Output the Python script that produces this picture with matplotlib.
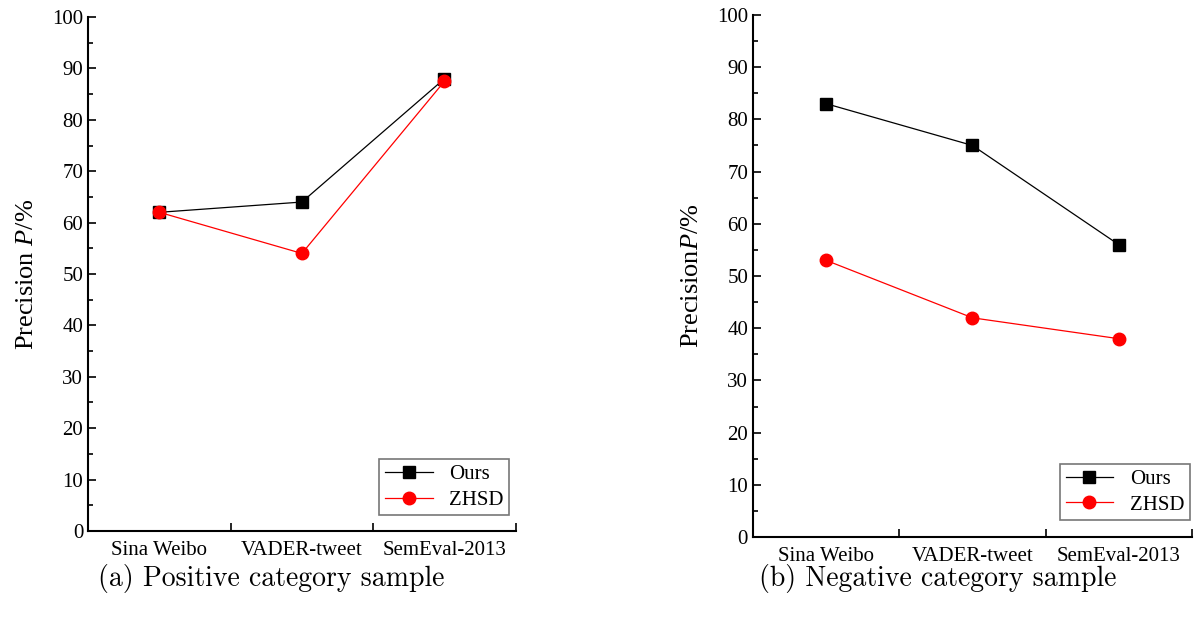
import matplotlib
matplotlib.use('Agg')
import matplotlib.pyplot as plt
from matplotlib.ticker import MultipleLocator, FixedLocator

datasets = ['Sina Weibo', 'VADER-tweet', 'SemEval-2013']
pos_ours = [62, 64, 88]
pos_zhsd = [62, 54, 87.5]
neg_ours = [83, 75, 56]
neg_zhsd = [53, 42, 38]
captions = ['(a) Positive category sample', '(b) Negative category sample']

plt.rcParams['font.family'] = 'Liberation Serif'
plt.rcParams['mathtext.fontset'] = 'custom'
plt.rcParams['mathtext.it'] = 'Liberation Serif:italic'
plt.rcParams['mathtext.rm'] = 'Liberation Serif'

fig = plt.figure(figsize=(11.98, 6.21), dpi=100)
ax1 = fig.add_axes([0.0735, 0.145, 0.357, 0.8276])
ax2 = fig.add_axes([0.6285, 0.135, 0.3665, 0.841])

panels = [(ax1, pos_ours, pos_zhsd, r'Precision $P$/%', (0.984, 0.031)),
          (ax2, neg_ours, neg_zhsd, r'Precision$P$/%', (0.995, 0.033))]

for ax, ours, zhsd, ylab, anchor in panels:
    x = range(len(datasets))
    ax.plot(x, ours, color='black', marker='s', markersize=8, lw=0.9, label='Ours')
    ax.plot(x, zhsd, color='red', marker='o', markersize=9, lw=0.9, label='ZHSD')
    ax.set_xlim(-0.5, len(datasets) - 0.5)
    ax.set_ylim(0, 100)
    ax.yaxis.set_major_locator(MultipleLocator(10))
    ax.yaxis.set_minor_locator(MultipleLocator(5))
    # dataset names sit between the inward ticks
    ax.xaxis.set_major_locator(FixedLocator([0.5, 1.5, 2.5]))
    ax.xaxis.set_minor_locator(FixedLocator([0, 1, 2]))
    ax.xaxis.set_major_formatter(plt.NullFormatter())
    ax.xaxis.set_minor_formatter(plt.FixedFormatter(datasets))
    ax.tick_params(axis='x', which='major', direction='in', length=6, width=1.2)
    ax.tick_params(axis='x', which='minor', length=0, pad=7, labelsize=15)
    ax.tick_params(axis='y', which='major', direction='in', length=6, width=1.2, labelsize=15)
    ax.tick_params(axis='y', which='minor', direction='in', length=3.5, width=1.2)
    ax.spines['top'].set_visible(False)
    ax.spines['right'].set_visible(False)
    ax.spines['left'].set_linewidth(1.5)
    ax.spines['bottom'].set_linewidth(1.5)
    ax.set_ylabel(ylab, fontsize=19, labelpad=10)
    leg = ax.legend(loc='lower right', fontsize=15, fancybox=False, edgecolor='#555555',
                    handlelength=2.3, borderpad=0.25, labelspacing=0.3,
                    borderaxespad=0, bbox_to_anchor=anchor)
    leg.get_frame().set_linewidth(1.2)

fig.text(0.226, 0.069, captions[0], ha='center', va='center', fontsize=20, family='cmr10')
fig.text(0.783, 0.069, captions[1], ha='center', va='center', fontsize=20, family='cmr10')

fig.savefig('out.png', dpi=100)
